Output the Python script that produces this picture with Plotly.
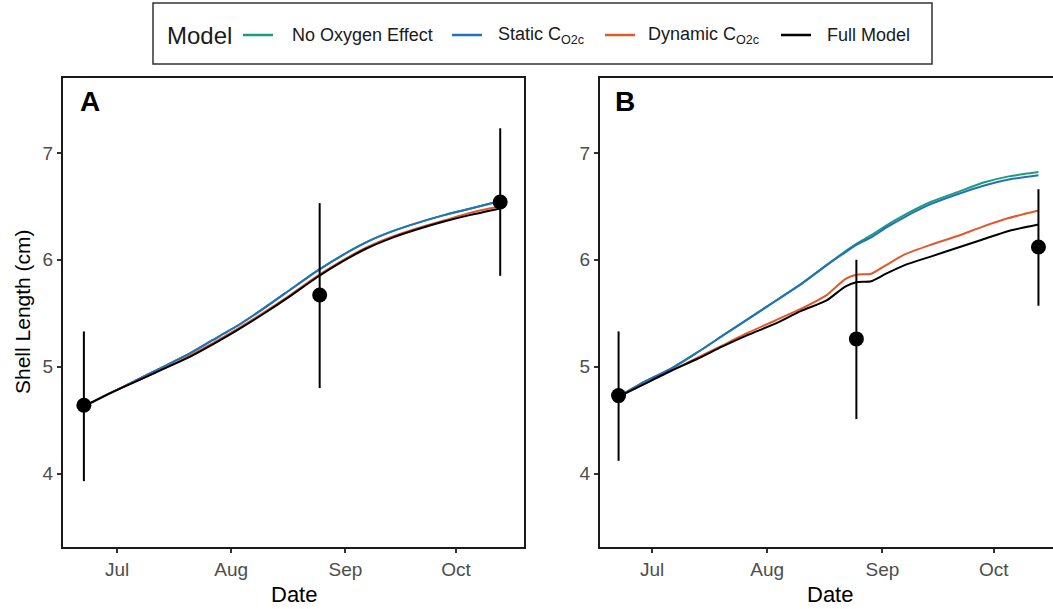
import plotly.graph_objects as go

# ---- observed shell lengths (mean and interval) ----
obs_dates = ["2019-06-22", "2019-08-25", "2019-10-13"]
obs_a_mean = [4.64, 5.67, 6.54]
obs_a_low = [3.93, 4.80, 5.85]
obs_a_high = [5.33, 6.53, 7.23]
obs_b_mean = [4.73, 5.26, 6.12]
obs_b_low = [4.12, 4.51, 5.57]
obs_b_high = [5.33, 6.00, 6.66]

# ---- modelled growth trajectories, panel A ----
dates_a = ["2019-06-22", "2019-06-29", "2019-07-06", "2019-07-13", "2019-07-20",
           "2019-07-27", "2019-08-03", "2019-08-10", "2019-08-17", "2019-08-24",
           "2019-08-31", "2019-09-07", "2019-09-14", "2019-09-21", "2019-09-28",
           "2019-10-05", "2019-10-13"]
a_no_oxygen = [4.63, 4.75, 4.87, 4.99, 5.11, 5.25, 5.39, 5.55, 5.72, 5.89,
               6.04, 6.17, 6.27, 6.35, 6.42, 6.48, 6.55]
a_static = [4.63, 4.75, 4.87, 4.99, 5.11, 5.25, 5.39, 5.55, 5.72, 5.89,
            6.04, 6.17, 6.27, 6.35, 6.42, 6.48, 6.55]
a_dynamic = [4.63, 4.75, 4.86, 4.97, 5.09, 5.22, 5.36, 5.51, 5.67, 5.84,
             5.99, 6.12, 6.22, 6.30, 6.37, 6.44, 6.50]
a_full = [4.63, 4.75, 4.86, 4.97, 5.08, 5.21, 5.35, 5.50, 5.66, 5.83,
          5.98, 6.11, 6.21, 6.29, 6.36, 6.42, 6.48]

# ---- modelled growth trajectories, panel B ----
dates_b = ["2019-06-22", "2019-06-29", "2019-07-06", "2019-07-13", "2019-07-20",
           "2019-07-27", "2019-08-03", "2019-08-10", "2019-08-17", "2019-08-22",
           "2019-08-25", "2019-08-29", "2019-09-02", "2019-09-07", "2019-09-14",
           "2019-09-21", "2019-09-28", "2019-10-05", "2019-10-13"]
b_no_oxygen = [4.72, 4.86, 4.98, 5.13, 5.29, 5.45, 5.61, 5.77, 5.95, 6.08,
               6.15, 6.23, 6.32, 6.42, 6.54, 6.63, 6.72, 6.78, 6.82]
b_static = [4.72, 4.86, 4.98, 5.13, 5.29, 5.45, 5.61, 5.77, 5.95, 6.07,
            6.14, 6.21, 6.30, 6.40, 6.52, 6.61, 6.69, 6.75, 6.79]
b_dynamic = [4.72, 4.84, 4.96, 5.08, 5.20, 5.32, 5.43, 5.54, 5.67, 5.82,
             5.86, 5.87, 5.95, 6.05, 6.14, 6.22, 6.31, 6.39, 6.46]
b_full = [4.72, 4.84, 4.96, 5.07, 5.19, 5.30, 5.40, 5.52, 5.62, 5.75,
          5.79, 5.80, 5.87, 5.95, 6.03, 6.11, 6.19, 6.27, 6.33]

model_names = ["No Oxygen Effect", "Static C<sub>O2c</sub>",
               "Dynamic C<sub>O2c</sub>", "Full Model"]
model_colors = ["#1b9e77", "#2470bd", "#e0592a", "#000000"]

month_ticks = ["2019-07-01", "2019-08-01", "2019-09-01", "2019-10-01"]
month_labels = ["Jul", "Aug", "Sep", "Oct"]
y_ticks = [4, 5, 6, 7]

FONT = "Liberation Sans, Arial, sans-serif"
W, H = 1053, 609

fig = go.Figure()

panels = [
    ("x", "y", dates_a, [a_no_oxygen, a_static, a_dynamic, a_full],
     obs_a_mean, obs_a_low, obs_a_high),
    ("x2", "y2", dates_b, [b_no_oxygen, b_static, b_dynamic, b_full],
     obs_b_mean, obs_b_low, obs_b_high),
]

for xa, ya, dts, series, mean, low, high in panels:
    for name, color, vals in zip(model_names, model_colors, series):
        fig.add_trace(go.Scatter(
            x=dts, y=vals, mode="lines", name=name, showlegend=False,
            line=dict(color=color, width=2, shape="spline", smoothing=0.6),
            xaxis=xa, yaxis=ya))
    fig.add_trace(go.Scatter(
        x=obs_dates, y=mean, mode="markers", showlegend=False,
        marker=dict(color="black", size=15),
        error_y=dict(type="data", symmetric=False,
                     array=[h - m for h, m in zip(high, mean)],
                     arrayminus=[m - l for m, l in zip(mean, low)],
                     color="black", thickness=2, width=0),
        xaxis=xa, yaxis=ya))

axis_common = dict(
    showgrid=False, zeroline=False, showline=True, linecolor="#1a1a1a",
    linewidth=2, ticks="outside", ticklen=4, tickwidth=1.5,
    tickcolor="#333333", tickfont=dict(family=FONT, size=19, color="#4d4d4d"),
)

y_range = [3.314, 7.70]
ydom = [1 - 547 / H, 1 - 78 / H]


def px(x):
    return x / W


def py(y):
    return 1 - y / H


# legend box with keys and labels placed along the top strip
legend_y = 35
key_x = [243, 452, 605, 781]
label_x = [290, 496, 646, 825]
shapes = [dict(type="rect", xref="paper", yref="paper",
               x0=px(153), x1=px(932), y0=py(64), y1=py(3),
               line=dict(color="#333333", width=1.5))]
annotations = [dict(text="Model", x=px(165), y=py(legend_y), xref="paper",
                    yref="paper", xanchor="left", yanchor="middle",
                    showarrow=False,
                    font=dict(family=FONT, size=24, color="#1a1a1a"))]
for name, color, kx, lx in zip(model_names, model_colors, key_x, label_x):
    shapes.append(dict(type="line", xref="paper", yref="paper",
                       x0=px(kx), x1=px(kx + 30), y0=py(legend_y),
                       y1=py(legend_y), line=dict(color=color, width=2.5)))
    annotations.append(dict(text=name, x=px(lx), y=py(legend_y), xref="paper",
                            yref="paper", xanchor="left", yanchor="middle",
                            showarrow=False,
                            font=dict(family=FONT, size=18, color="#1a1a1a")))

annotations += [
    dict(text="<b>A</b>", x=px(78), y=py(101), xref="paper", yref="paper",
         xanchor="left", yanchor="middle", showarrow=False,
         font=dict(family=FONT, size=28, color="black")),
    dict(text="<b>B</b>", x=px(613), y=py(101), xref="paper", yref="paper",
         xanchor="left", yanchor="middle", showarrow=False,
         font=dict(family=FONT, size=28, color="black")),
    dict(text="Date", x=px(293.5), y=py(594), xref="paper", yref="paper",
         xanchor="center", yanchor="middle", showarrow=False,
         font=dict(family=FONT, size=22, color="black")),
    dict(text="Date", x=px(830), y=py(594), xref="paper", yref="paper",
         xanchor="center", yanchor="middle", showarrow=False,
         font=dict(family=FONT, size=22, color="black")),
    dict(text="Shell Length (cm)", x=px(22), y=py(312), xref="paper",
         yref="paper", xanchor="center", yanchor="middle", showarrow=False,
         textangle=-90, font=dict(family=FONT, size=21, color="black")),
]

fig.update_layout(
    width=W, height=H,
    margin=dict(l=0, r=0, t=0, b=0),
    paper_bgcolor="white", plot_bgcolor="white",
    font=dict(family=FONT),
    showlegend=False,
    xaxis=dict(domain=[px(63), px(524)], type="date",
               range=["2019-06-16 08:00", "2019-10-19 11:00"],
               tickvals=month_ticks, ticktext=month_labels, mirror=True,
               **axis_common),
    yaxis=dict(domain=ydom, range=y_range, tickvals=y_ticks, mirror=True,
               anchor="x", **axis_common),
    xaxis2=dict(domain=[px(600), 1.0], type="date",
                range=["2019-06-17 00:00", "2019-10-16 22:00"],
                tickvals=month_ticks, ticktext=month_labels, mirror=True,
                anchor="y2", **axis_common),
    yaxis2=dict(domain=ydom, range=y_range, tickvals=y_ticks, mirror=False,
                anchor="x2", **axis_common),
    shapes=shapes,
    annotations=annotations,
)

fig.write_html("out.html")
